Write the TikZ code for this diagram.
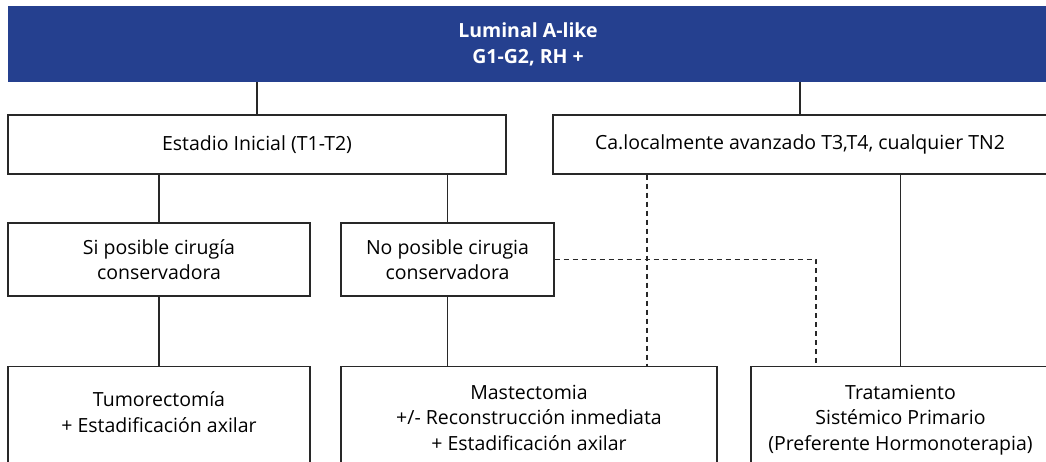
\documentclass[tikz,border=0pt]{standalone}
\usepackage{fontspec}
\setmainfont{Open Sans}
\usepackage{xcolor}
\usepackage{tikz}

\definecolor{bannerblue}{RGB}{37,64,143}
\definecolor{linegray}{RGB}{40,40,40}

\tikzset{
  box/.style={draw=linegray, line width=1.1pt, inner sep=0pt, align=center,
    font=\fontsize{19.5}{25.5}\selectfont},
  openbox/.style={box, anchor=north, text depth=90pt},
  link/.style={draw=linegray, line width=1.1pt},
  dlink/.style={link, dash pattern=on 5pt off 4pt}
}

\begin{document}
\begin{tikzpicture}[x=1pt,y=-1pt]
    \clip (0,0) rectangle (1046,462);

    % Header
    \node[fill=bannerblue, text=white, inner sep=0pt, align=center,
      minimum width=1040pt, minimum height=76pt,
      font=\bfseries\fontsize{19.5}{26}\selectfont] (banner) at (528,44) {Luminal A-like\\G1-G2, RH +};

    % Stage
    \node[box, minimum width=498pt, minimum height=59pt] (early) at (257,144.5) {Estadio Inicial (T1-T2)};
    \node[box, minimum width=494pt, minimum height=59pt] (advanced) at (800,144.5) {Ca.localmente avanzado T3,T4, cualquier TN2};

    % Surgery
    \node[box, minimum width=302pt, minimum height=73pt] (conserv) at (159,259.5) {Si posible cirugía\\conservadora};
    \node[box, minimum width=213pt, minimum height=73pt] (noconserv) at (447.5,259.5) {No posible cirugia\\conservadora};

    % Treatment (boxes run past the bottom edge)
    \node[openbox, inner ysep=25.5pt, minimum width=302pt] (tumor) at (159,366) {Tumorectomía\\+ Estadificación axilar};
    \node[openbox, inner ysep=18.5pt, minimum width=376pt] (mast) at (529,366) {Mastectomia\\+/- Reconstrucción inmediata\\+ Estadificación axilar};
    \node[openbox, inner ysep=18.5pt, minimum width=299pt] (systemic) at (900.5,366) {Tratamiento\\Sistémico Primario\\(Preferente Hormonoterapia)};

    % Connectors
    \draw[link] (early.north) -- (early.north |- banner.south);
    \draw[link] (advanced.north) -- (advanced.north |- banner.south);
    \draw[link] (early.south -| conserv) -- (conserv.north);
    \draw[link] (early.south -| noconserv) -- (noconserv.north);
    \draw[link] (conserv.south) -- (tumor.north);
    \draw[link] (noconserv.south) -- (noconserv.south |- mast.north);
    \draw[link] (systemic.north) -- (systemic.north |- advanced.south);

    % Optional paths
    \coordinate (dropA) at (647,0);
    \coordinate (dropB) at (816,0);
    \draw[dlink] (advanced.south -| dropA) -- (mast.north -| dropA);
    \draw[dlink] (noconserv.east) -- (noconserv.east -| dropB) -- (systemic.north -| dropB);
\end{tikzpicture}
\end{document}
